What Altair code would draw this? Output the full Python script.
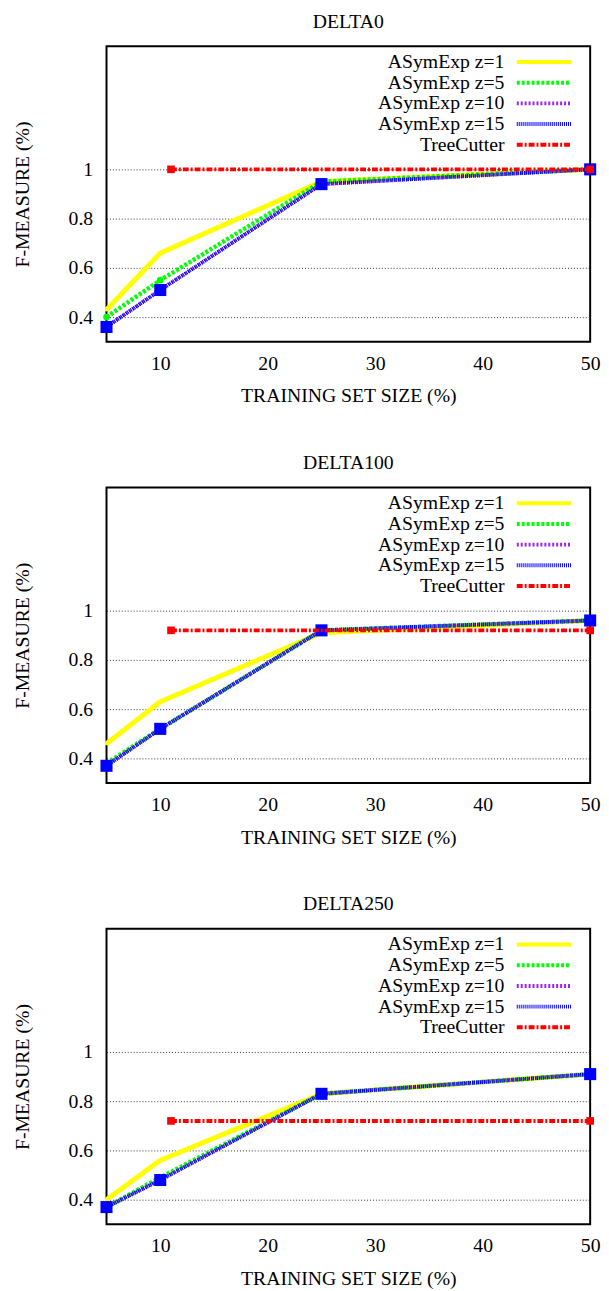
import altair as alt
import pandas as pd

FONT = "Liberation Serif"

panels = ["DELTA0", "DELTA100", "DELTA250"]
series = ["ASymExp z=1", "ASymExp z=5", "ASymExp z=10", "ASymExp z=15", "TreeCutter"]
colors = ["#ffff00", "#00ff00", "#a020f0", "#0000ff", "#ff0000"]
dashes = [[1, 0], [3, 2], [2, 2], [1, 1], [6, 2, 2, 2]]
widths = [5, 4.5, 3.5, 4, 4]
shapes = ["circle", "circle", "circle", "square", "square"]
sizes = [12, 45, 45, 150, 60]

train_sizes = [5, 10, 25, 50]
tc_sizes = [11, 50]

# DELTA0
d0_z1 = [0.43, 0.66, 0.95, 1.00]
d0_z5 = [0.40, 0.55, 0.95, 1.00]
d0_z10 = [0.36, 0.51, 0.94, 1.00]
d0_z15 = [0.36, 0.51, 0.94, 1.00]
d0_tc = [1.00, 1.00]
# DELTA100
d100_z1 = [0.46, 0.63, 0.91, 0.96]
d100_z5 = [0.38, 0.52, 0.92, 0.96]
d100_z10 = [0.37, 0.52, 0.92, 0.96]
d100_z15 = [0.37, 0.52, 0.92, 0.96]
d100_tc = [0.92, 0.92]
# DELTA250
d250_z1 = [0.40, 0.56, 0.83, 0.91]
d250_z5 = [0.37, 0.49, 0.83, 0.91]
d250_z10 = [0.37, 0.48, 0.83, 0.91]
d250_z15 = [0.37, 0.48, 0.83, 0.91]
d250_tc = [0.72, 0.72]

panel_values = {
    "DELTA0": [d0_z1, d0_z5, d0_z10, d0_z15, d0_tc],
    "DELTA100": [d100_z1, d100_z5, d100_z10, d100_z15, d100_tc],
    "DELTA250": [d250_z1, d250_z5, d250_z10, d250_z15, d250_tc],
}

y_ticks = [0.4, 0.6, 0.8, 1.0]
x_ticks = [10, 20, 30, 40, 50]


def panel_df(name):
    rows = []
    for s, vals in zip(series, panel_values[name]):
        xs = tc_sizes if s == "TreeCutter" else train_sizes
        for x, y in zip(xs, vals):
            rows.append({"series": s, "x": x, "y": y})
    return pd.DataFrame(rows)


x_enc = alt.X("x:Q", scale=alt.Scale(domain=[5, 50], nice=False, zero=False),
              axis=alt.Axis(values=x_ticks, title="TRAINING SET SIZE (%)", grid=False,
                            ticks=False, domain=False, labelFlush=False,
                            labelPadding=12, titlePadding=13))
y_enc = alt.Y("y:Q", scale=alt.Scale(domain=[0.3, 1.5], nice=False, zero=False),
              axis=alt.Axis(values=y_ticks, format="~g", title="F-MEASURE (%)", grid=True,
                            gridDash=[1, 2], gridColor="#000000", gridWidth=0.8,
                            ticks=False, domain=False, labelPadding=14, titlePadding=36))

legend = alt.Legend(title=None, orient="none", legendX=434, legendY=6)


def make_panel(name):
    df = panel_df(name)
    layers = []
    for i, s in enumerate(series):
        base = alt.Chart(df).transform_filter(alt.datum.series == s)
        line = base.mark_line(strokeWidth=widths[i], clip=False).encode(
            x=x_enc, y=y_enc,
            color=alt.Color("series:N", scale=alt.Scale(domain=series, range=colors),
                            legend=legend, sort=series),
            strokeDash=alt.StrokeDash("series:N", scale=alt.Scale(domain=series, range=dashes),
                                      legend=legend, sort=series),
        )
        pts = base.mark_point(filled=True, opacity=1, clip=False, shape=shapes[i],
                              size=sizes[i], color=colors[i]).encode(x=x_enc, y=y_enc)
        layers += [line, pts]
    return alt.layer(*layers).properties(
        width=491, height=300,
        title=alt.TitleParams(name, font=FONT, fontSize=20, fontWeight="normal",
                              offset=15, color="#000000"),
    )


chart = alt.vconcat(*[make_panel(p) for p in panels], spacing=46).resolve_scale(
    color="independent", strokeDash="independent"
).resolve_legend(color="independent", strokeDash="independent").properties(
    padding={"left": 4, "top": -7, "right": 0, "bottom": 0}
).configure_view(stroke="#000000", strokeWidth=2).configure_axis(
    labelFont=FONT, titleFont=FONT, labelFontSize=20, titleFontSize=20,
    labelColor="#000000", titleColor="#000000", titleFontWeight="normal"
).configure_legend(
    labelFont=FONT, labelFontSize=20, labelColor="#000000", labelAlign="right",
    labelOffset={"expr": "-50"}, symbolType="M-4,0H4", symbolSize=189,
    symbolStrokeWidth=4, rowPadding=1, padding=0, labelLimit=300, symbolOffset=0
)

chart.save("out.html", embed_options={"renderer": "svg", "actions": False})
